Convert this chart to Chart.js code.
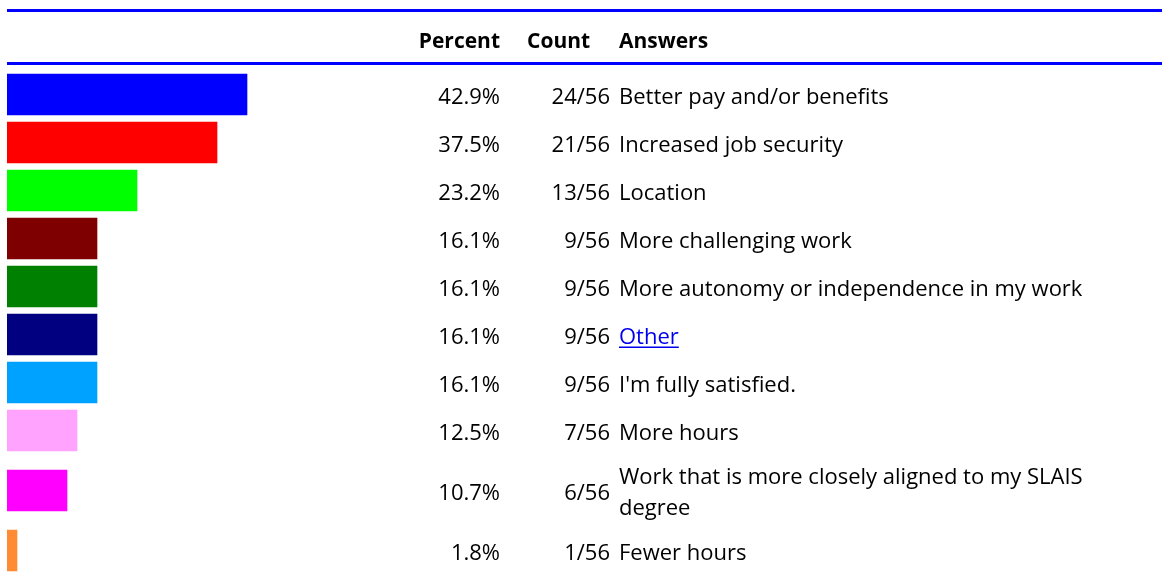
<!DOCTYPE html>
<html>
<head>
<meta charset="utf-8">
<script src="https://cdn.jsdelivr.net/npm/chart.js@4/dist/chart.umd.min.js"></script>
<style>
  html, body { margin: 0; padding: 0; background: #fff; }
  #wrap { width: 1162px; height: 576px; }
</style>
</head>
<body>
<div id="wrap"><canvas id="answersChart"></canvas></div>
<script>
const answers = [
  ["Better pay and/or benefits"],
  ["Increased job security"],
  ["Location"],
  ["More challenging work"],
  ["More autonomy or independence in my work"],
  ["Other"],
  ["I'm fully satisfied."],
  ["More hours"],
  ["Work that is more closely aligned to my SLAIS", "degree"],
  ["Fewer hours"],
];
const counts = [24, 21, 13, 9, 9, 9, 9, 7, 6, 1];
const respondents = 56;
const barColors = [
  "#0000FF", "#FF0000", "#00FF00", "#7F0000", "#008000",
  "#000080", "#00A2FF", "#FFA3FF", "#FF00FF", "#FF8C35",
];
const linkAnswers = ["Other"];

const FONT = "'Open Sans', sans-serif";
const ROW_H = 48;
const EXTRA_LINE_H = 24;
const TEXT_LINE_H = 31;

// each row grows with the number of lines in its answer text
const rowCenters = [];
let offset = 0;
answers.forEach((lines) => {
  const h = ROW_H + (lines.length - 1) * EXTRA_LINE_H;
  rowCenters.push(offset + h / 2);
  offset += h;
});
const tableHeight = offset;

const points = counts.map((c, i) => ({ x: c, y: rowCenters[i] }));

const tablePlugin = {
  id: "answerTable",
  afterDatasetsDraw(chart) {
    const ctx = chart.ctx;
    const yScale = chart.scales.y;
    const W = chart.width;

    ctx.save();
    ctx.fillStyle = "#0000FF";
    ctx.fillRect(7, 9, W - 7, 3);
    ctx.fillRect(7, 62, W - 7, 3);

    ctx.fillStyle = "#000";
    ctx.font = "bold 21px " + FONT;
    ctx.textBaseline = "alphabetic";
    ctx.textAlign = "right";
    ctx.fillText("Percent", 500, 48);
    ctx.textAlign = "left";
    ctx.fillText("Count", 527, 48);
    ctx.fillText("Answers", 619, 48);

    ctx.font = "22px " + FONT;
    counts.forEach((c, i) => {
      const yc = yScale.getPixelForValue(rowCenters[i]);
      const base = yc + 9;
      ctx.fillStyle = "#000";
      ctx.textAlign = "right";
      ctx.fillText((c / respondents * 100).toFixed(1) + "%", 500, base);
      ctx.fillText(c + "/" + respondents, 610, base);

      const lines = answers[i];
      const first = base - (lines.length - 1) * TEXT_LINE_H / 2;
      ctx.textAlign = "left";
      lines.forEach((line, k) => {
        const y = first + k * TEXT_LINE_H;
        if (linkAnswers.includes(line)) {
          ctx.fillStyle = "#0000EE";
          ctx.fillText(line, 619, y);
          const w = ctx.measureText(line).width;
          ctx.fillRect(619, y + 3, w, 1.5);
        } else {
          ctx.fillStyle = "#000";
          ctx.fillText(line, 619, y);
        }
      });
    });
    ctx.restore();
  },
};

new Chart(document.getElementById("answersChart"), {
  type: "bar",
  data: {
    labels: answers.map((a) => a.join(" ")),
    datasets: [{
      data: points,
      backgroundColor: barColors,
      borderWidth: 0,
      barThickness: 41,
    }],
  },
  options: {
    indexAxis: "y",
    responsive: true,
    maintainAspectRatio: false,
    animation: false,
    layout: {
      padding: { left: 7, right: 1162 - 7 - respondents * 10, top: 70.5, bottom: 576 - 70.5 - tableHeight },
    },
    scales: {
      x: { type: "linear", min: 0, max: respondents, display: false, offset: false },
      y: { type: "linear", min: 0, max: tableHeight, reverse: true, display: false, offset: false },
    },
    plugins: {
      legend: { display: false },
      tooltip: { enabled: false },
    },
  },
  plugins: [tablePlugin],
});
</script>
</body>
</html>
